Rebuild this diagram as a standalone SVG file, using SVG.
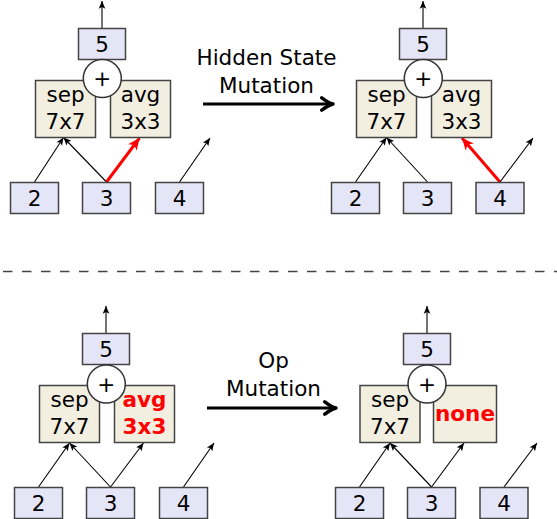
<svg xmlns="http://www.w3.org/2000/svg" width="557" height="519" viewBox="0 0 557 519">
<style>
text{font-family:"DejaVu Sans","Liberation Sans",sans-serif;font-size:21.5px;fill:#000;text-anchor:middle}
.nd{fill:#e5e5f8;stroke:#444;stroke-width:1.5}
.op{fill:#f2eee0;stroke:#444;stroke-width:1.5}
.pl{fill:#fff;stroke:#333;stroke-width:1.5}
.e{stroke:#000;stroke-width:1.1;fill:none;marker-end:url(#ah)}
.r{stroke:#f00;stroke-width:3;fill:none;marker-end:url(#rh)}
.big{stroke:#000;stroke-width:3;fill:none;marker-end:url(#bh)}
.red{fill:#f00;font-weight:bold}
</style>
<defs>
<marker id="ah" markerUnits="userSpaceOnUse" markerWidth="10" markerHeight="10" viewBox="-8 -4 9 8" refX="0" refY="0" orient="auto"><path d="M0,0 L-7,-3 L-5.5,0 L-7,3 z" fill="#000"/></marker>
<marker id="rh" markerUnits="userSpaceOnUse" markerWidth="14" markerHeight="14" viewBox="-12 -6 13 12" refX="0" refY="0" orient="auto"><path d="M0,0 L-11,-5 L-8,0 L-11,5 z" fill="#f00"/></marker>
<marker id="bh" markerUnits="userSpaceOnUse" markerWidth="18" markerHeight="18" viewBox="-14 -8 16 16" refX="0" refY="0" orient="auto"><path d="M-10,-5.5 Q-4,-1 0,0 Q-4,1 -10,5.5" fill="none" stroke="#000" stroke-width="3" stroke-linecap="round" stroke-linejoin="round"/></marker>
</defs>

<g id="connectors">
<line class="e" x1="102" y1="28" x2="102" y2="1"/>
<line class="e" x1="34.5" y1="182" x2="63.5" y2="137.5"/>
<line class="e" x1="106.5" y1="182" x2="63.5" y2="137.5"/>
<line class="r" x1="106.5" y1="182" x2="139.5" y2="138"/>
<line class="e" x1="179.5" y1="182" x2="210" y2="138"/>
<line class="e" x1="423" y1="28" x2="423" y2="1"/>
<line class="e" x1="355.5" y1="182" x2="386.5" y2="137.5"/>
<line class="e" x1="427.5" y1="182" x2="386.5" y2="137.5"/>
<line class="r" x1="500" y1="182" x2="462" y2="138"/>
<line class="e" x1="500" y1="182" x2="533" y2="138"/>
<line class="e" x1="106" y1="333" x2="106" y2="306"/>
<line class="e" x1="38.5" y1="487" x2="69.5" y2="443"/>
<line class="e" x1="110.5" y1="487" x2="69.5" y2="443"/>
<line class="e" x1="110.5" y1="487" x2="143.5" y2="443"/>
<line class="e" x1="183.5" y1="487" x2="214" y2="443"/>
<line class="e" x1="427" y1="333" x2="427" y2="306"/>
<line class="e" x1="359.5" y1="487" x2="390" y2="443"/>
<line class="e" x1="431.5" y1="487" x2="390" y2="443"/>
<line class="e" x1="431.5" y1="487" x2="464" y2="443"/>
<line class="e" x1="504" y1="487" x2="537" y2="443"/>
<line class="big" x1="203" y1="104" x2="333" y2="104"/>
<line class="big" x1="207" y1="408" x2="336" y2="408"/>
</g>

<g id="labels">
<text x="266.5" y="65">Hidden State</text>
<text x="266.5" y="93">Mutation</text>
<text x="273.5" y="368">Op</text>
<text x="273.5" y="396">Mutation</text>
</g>

<line id="divider" x1="3" y1="271.5" x2="557" y2="271.5" stroke="#444" stroke-width="1.4" stroke-dasharray="9.5 9.5"/>

<g id="tl-n5"><rect class="nd" x="78.5" y="28.5" width="47" height="31"/><text x="102" y="51.7">5</text></g>
<g id="tl-sep"><rect class="op" x="35.5" y="80.5" width="60" height="57"/><text x="65.5" y="101.7">sep</text><text x="65.5" y="129.3">7x7</text></g>
<g id="tl-avg"><rect class="op" x="110.5" y="80.5" width="60" height="57"/><text x="140.5" y="101.7">avg</text><text x="140.5" y="129.3">3x3</text></g>
<g id="tl-plus"><circle class="pl" cx="102.3" cy="78.5" r="19"/><text x="102.3" y="86">+</text></g>
<g id="tl-n2"><rect class="nd" x="10.5" y="182.5" width="48" height="31"/><text x="34.5" y="205.7">2</text></g>
<g id="tl-n3"><rect class="nd" x="82.5" y="182.5" width="48" height="31"/><text x="106.5" y="205.7">3</text></g>
<g id="tl-n4"><rect class="nd" x="155.5" y="182.5" width="48" height="31"/><text x="179.5" y="205.7">4</text></g>

<g id="tr-n5"><rect class="nd" x="399.5" y="28.5" width="47" height="31"/><text x="423" y="51.7">5</text></g>
<g id="tr-sep"><rect class="op" x="356.5" y="80.5" width="60" height="57"/><text x="386.5" y="101.7">sep</text><text x="386.5" y="129.3">7x7</text></g>
<g id="tr-avg"><rect class="op" x="431.5" y="80.5" width="60" height="57"/><text x="461.5" y="101.7">avg</text><text x="461.5" y="129.3">3x3</text></g>
<g id="tr-plus"><circle class="pl" cx="423.3" cy="78.5" r="19"/><text x="423.3" y="86">+</text></g>
<g id="tr-n2"><rect class="nd" x="331.5" y="182.5" width="48" height="31"/><text x="355.5" y="205.7">2</text></g>
<g id="tr-n3"><rect class="nd" x="403.5" y="182.5" width="48" height="31"/><text x="427.5" y="205.7">3</text></g>
<g id="tr-n4"><rect class="nd" x="476" y="182.5" width="48" height="31"/><text x="500" y="205.7">4</text></g>

<g id="bl-n5"><rect class="nd" x="82.5" y="333.5" width="47" height="31"/><text x="106" y="356.7">5</text></g>
<g id="bl-sep"><rect class="op" x="39.5" y="385.5" width="60" height="57"/><text x="69.5" y="406.7">sep</text><text x="69.5" y="434.3">7x7</text></g>
<g id="bl-avg"><rect class="op" x="114.5" y="385.5" width="60" height="57"/><text class="red" x="144.5" y="406.7">avg</text><text class="red" x="144.5" y="434.3">3x3</text></g>
<g id="bl-plus"><circle class="pl" cx="106.3" cy="384" r="19"/><text x="106.3" y="391.5">+</text></g>
<g id="bl-n2"><rect class="nd" x="14.5" y="487.5" width="48" height="31"/><text x="38.5" y="510.7">2</text></g>
<g id="bl-n3"><rect class="nd" x="86.5" y="487.5" width="48" height="31"/><text x="110.5" y="510.7">3</text></g>
<g id="bl-n4"><rect class="nd" x="159.5" y="487.5" width="48" height="31"/><text x="183.5" y="510.7">4</text></g>

<g id="br-n5"><rect class="nd" x="403.5" y="333.5" width="47" height="31"/><text x="427" y="356.7">5</text></g>
<g id="br-sep"><rect class="op" x="360" y="385.5" width="60" height="57"/><text x="390" y="406.7">sep</text><text x="390" y="434.3">7x7</text></g>
<g id="br-none"><rect class="op" x="433.5" y="385.5" width="63" height="57"/><text class="red" x="465" y="421">none</text></g>
<g id="br-plus"><circle class="pl" cx="427" cy="384" r="19"/><text x="427" y="391.5">+</text></g>
<g id="br-n2"><rect class="nd" x="335.5" y="487.5" width="48" height="31"/><text x="359.5" y="510.7">2</text></g>
<g id="br-n3"><rect class="nd" x="407.5" y="487.5" width="48" height="31"/><text x="431.5" y="510.7">3</text></g>
<g id="br-n4"><rect class="nd" x="480" y="487.5" width="48" height="31"/><text x="504" y="510.7">4</text></g>
</svg>
